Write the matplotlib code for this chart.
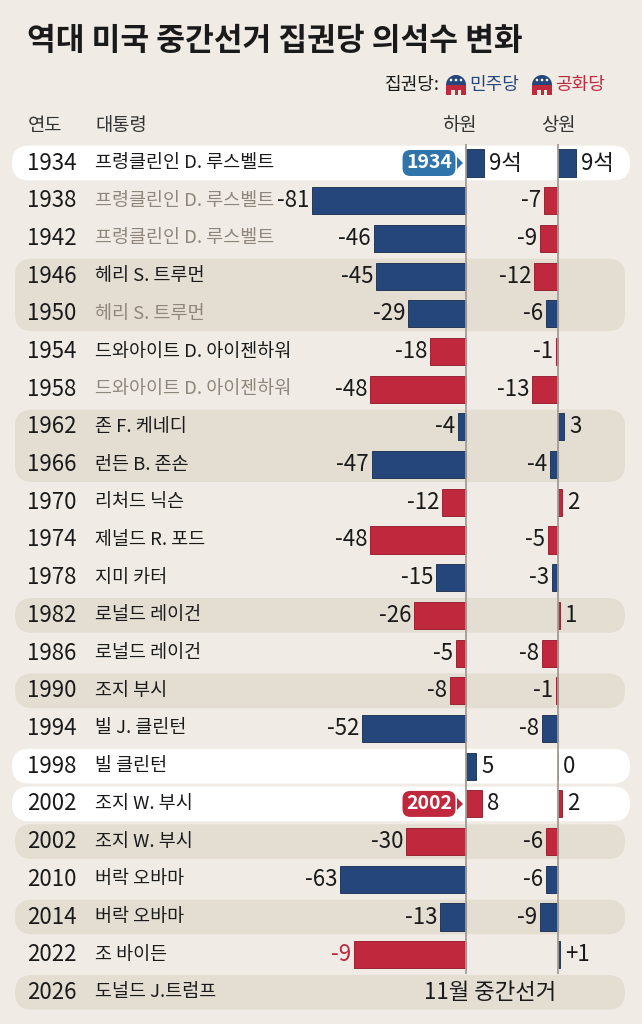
import matplotlib.pyplot as plt
from matplotlib.patches import FancyBboxPatch, Polygon, Wedge, Rectangle

plt.rcParams['font.family'] = ['Noto Sans CJK KR', 'DejaVu Sans']

# 데이터
years = ['1934', '1938', '1942', '1946', '1950', '1954', '1958', '1962', '1966', '1970', '1974',
         '1978', '1982', '1986', '1990', '1994', '1998', '2002', '2002', '2010', '2014', '2022', '2026']
presidents = ['프령클린인 D. 루스벨트', '프령클린인 D. 루스벨트', '프령클린인 D. 루스벨트',
              '헤리 S. 트루먼', '헤리 S. 트루먼', '드와아이트 D. 아이젠하워', '드와아이트 D. 아이젠하워',
              '존 F. 케네디', '런든 B. 존손', '리처드 닉슨', '제널드 R. 포드', '지미 카터',
              '로널드 레이건', '로널드 레이건', '조지 부시', '빌 J. 클린턴', '빌 클린턴',
              '조지 W. 부시', '조지 W. 부시', '버락 오바마', '버락 오바마', '조 바이든', '도널드 J.트럼프']
gray_names = [1, 2, 4, 6]

# 하원 (막대 길이는 그림에서 읽은 값)
house_vals = [9, -77, -46, -45, -29, -18, -48, -4, -47, -12, -48, -15, -26, -5, -8, -52,
              5, 8, -30, -63, -13, -56]
house_labels = ['9석', '-81', '-46', '-45', '-29', '-18', '-48', '-4', '-47', '-12', '-48', '-15',
                '-26', '-5', '-8', '-52', '5', '8', '-30', '-63', '-13', '-9']
house_party = ['D', 'D', 'D', 'D', 'D', 'R', 'R', 'D', 'D', 'R', 'R', 'D', 'R', 'R', 'R', 'D',
               'D', 'R', 'R', 'D', 'D', 'R']

# 상원
senate_vals = [9, -7, -9, -12, -6, -1, -13, 3, -4, 2, -5, -3, 1, -8, -1, -8, 0, 2, -6, -6, -9, 1]
senate_labels = ['9석', '-7', '-9', '-12', '-6', '-1', '-13', '3', '-4', '2', '-5', '-3', '1',
                 '-8', '-1', '-8', '0', '2', '-6', '-6', '-9', '+1']
senate_party = ['D', 'R', 'R', 'R', 'D', 'R', 'R', 'D', 'D', 'R', 'R', 'D', 'R', 'R', 'R', 'D',
                'D', 'R', 'R', 'D', 'D', 'D']

BLUE = '#24467a'
RED = '#c0283e'
BG = '#f0ece5'
SHADE = '#e3ddd2'
TXT = '#1a1a1a'
GRAY = '#8e857b'
party_color = {'D': BLUE, 'R': RED}

W, H = 642, 1024
y0, pitch = 163, 37.7

fig = plt.figure(figsize=(W / 100, H / 100), dpi=100)
fig.patch.set_facecolor(BG)

# 배경용 축 (픽셀 좌표)
bg = fig.add_axes([0, 0, 1, 1])
bg.set_xlim(0, W)
bg.set_ylim(H, 0)
bg.axis('off')


def ry(i):
    return y0 + i * pitch


# 줄 배경 (시작행, 끝행, 색)
pills = [(0, 0, 'white'), (3, 4, SHADE), (7, 8, SHADE), (12, 12, SHADE), (14, 14, SHADE),
         (16, 16, 'white'), (17, 17, 'white'), (18, 18, SHADE), (20, 20, SHADE), (22, 22, SHADE)]
for a, b, c in pills:
    top = ry(a) - pitch / 2 + 1.5
    bot = ry(b) + pitch / 2 - 1.5
    x1, x2 = (12, 630) if c == 'white' else (15, 625)
    bg.add_patch(FancyBboxPatch((x1, top), x2 - x1, bot - top,
                                boxstyle='round,pad=0,rounding_size=17',
                                fc=c, ec='none', zorder=1))

bg.text(27, 41, '역대 미국 중간선거 집권당 의석수 변화', fontsize=22.5, fontweight='bold',
        color=TXT, va='center', ha='left')


# 범례
def elephant(x, y, c_top, c_bot):
    bg.add_patch(Wedge((x + 10, y + 1), 10, 180, 360, fc=c_top, ec='none', zorder=3))
    bg.add_patch(Rectangle((x, y + 1), 20, 10, fc=c_bot, ec='none', zorder=3))
    for lx in (5, 11.5):
        bg.add_patch(Rectangle((x + lx, y + 6), 3.5, 5.5, fc=BG, ec='none', zorder=4))
    for dx in (5, 10, 15):
        bg.add_patch(Wedge((x + dx, y - 4), 1.3, 0, 360, fc='white', ec='none', zorder=4))


bg.text(385, 85, '집권당:', fontsize=13, color=TXT, va='center', ha='left')
elephant(446, 84, BLUE, RED)
bg.text(469, 85, '민주당', fontsize=13, color=BLUE, va='center', ha='left')
elephant(532, 84, BLUE, RED)
bg.text(555, 85, '공화당', fontsize=13, color=RED, va='center', ha='left')

# 머리글
bg.text(28, 125, '연도', fontsize=13.5, color='#333333', va='center', ha='left')
bg.text(95, 125, '대통령', fontsize=13.5, color='#333333', va='center', ha='left')
bg.text(459, 125, '하원', fontsize=13.5, color='#333333', va='center', ha='center')
bg.text(558, 125, '상원', fontsize=13.5, color='#333333', va='center', ha='center')

for i, (yr, name) in enumerate(zip(years, presidents)):
    bg.text(27, ry(i), yr, fontsize=16, color=TXT, va='center', ha='left', zorder=5)
    bg.text(95, ry(i), name, fontsize=13.3, color=GRAY if i in gray_names else TXT,
            va='center', ha='left', zorder=5)

bg.text(490, ry(22), '11월 중간선거', fontsize=16, color=TXT, va='center', ha='center', zorder=5)


# 강조 태그
def tag(txt, row, color):
    y = ry(row)
    bg.text(429, y, txt, fontsize=14, fontweight='bold', color='white', va='center',
            ha='center', zorder=6,
            bbox=dict(boxstyle='round,pad=0.18,rounding_size=0.4', fc=color, ec='none'))
    bg.add_patch(Polygon([(457, y - 6), (457, y + 6), (463, y)], closed=True, fc=color,
                         ec='none', zorder=6))


tag('1934', 0, '#2f74ab')
tag('2002', 17, RED)

# 막대 축
n = len(house_vals)
rows = list(range(n))
top_px = y0 - pitch / 2
bot_px = y0 + (len(years) - 0.5) * pitch
ax_bottom = 1 - bot_px / H
ax_height = (bot_px - top_px) / H

ax_h = fig.add_axes([290 / W, ax_bottom, 220 / W, ax_height])
ax_h.set_xlim(-88, 22)
ax_s = fig.add_axes([510 / W, ax_bottom, 110 / W, ax_height])
ax_s.set_xlim(-24, 31)

for ax, vals, labels, party in [(ax_h, house_vals, house_labels, house_party),
                                 (ax_s, senate_vals, senate_labels, senate_party)]:
    ax.set_ylim(len(years) - 0.5, -0.5)
    ax.patch.set_alpha(0)
    ax.axis('off')
    ax.barh(rows, vals, height=0.72, color=[party_color[p] for p in party],
            edgecolor=['#16294a' if p == 'D' else '#8e1526' for p in party], linewidth=0.6,
            zorder=3)
    ax.vlines(0, -0.5, len(years) - 1.5, color='#a29c95', lw=1.3, zorder=4)
    for r, v, lab in zip(rows, vals, labels):
        col = RED if (ax is ax_h and r == n - 1) else TXT
        if v < 0:
            ax.text(v - 1.5, r, lab, fontsize=16, color=col, va='center', ha='right', zorder=5)
        else:
            ax.text(v + 2.5, r, lab, fontsize=16, color=col, va='center', ha='left', zorder=5)

plt.savefig('out.png', dpi=100, facecolor=BG)
